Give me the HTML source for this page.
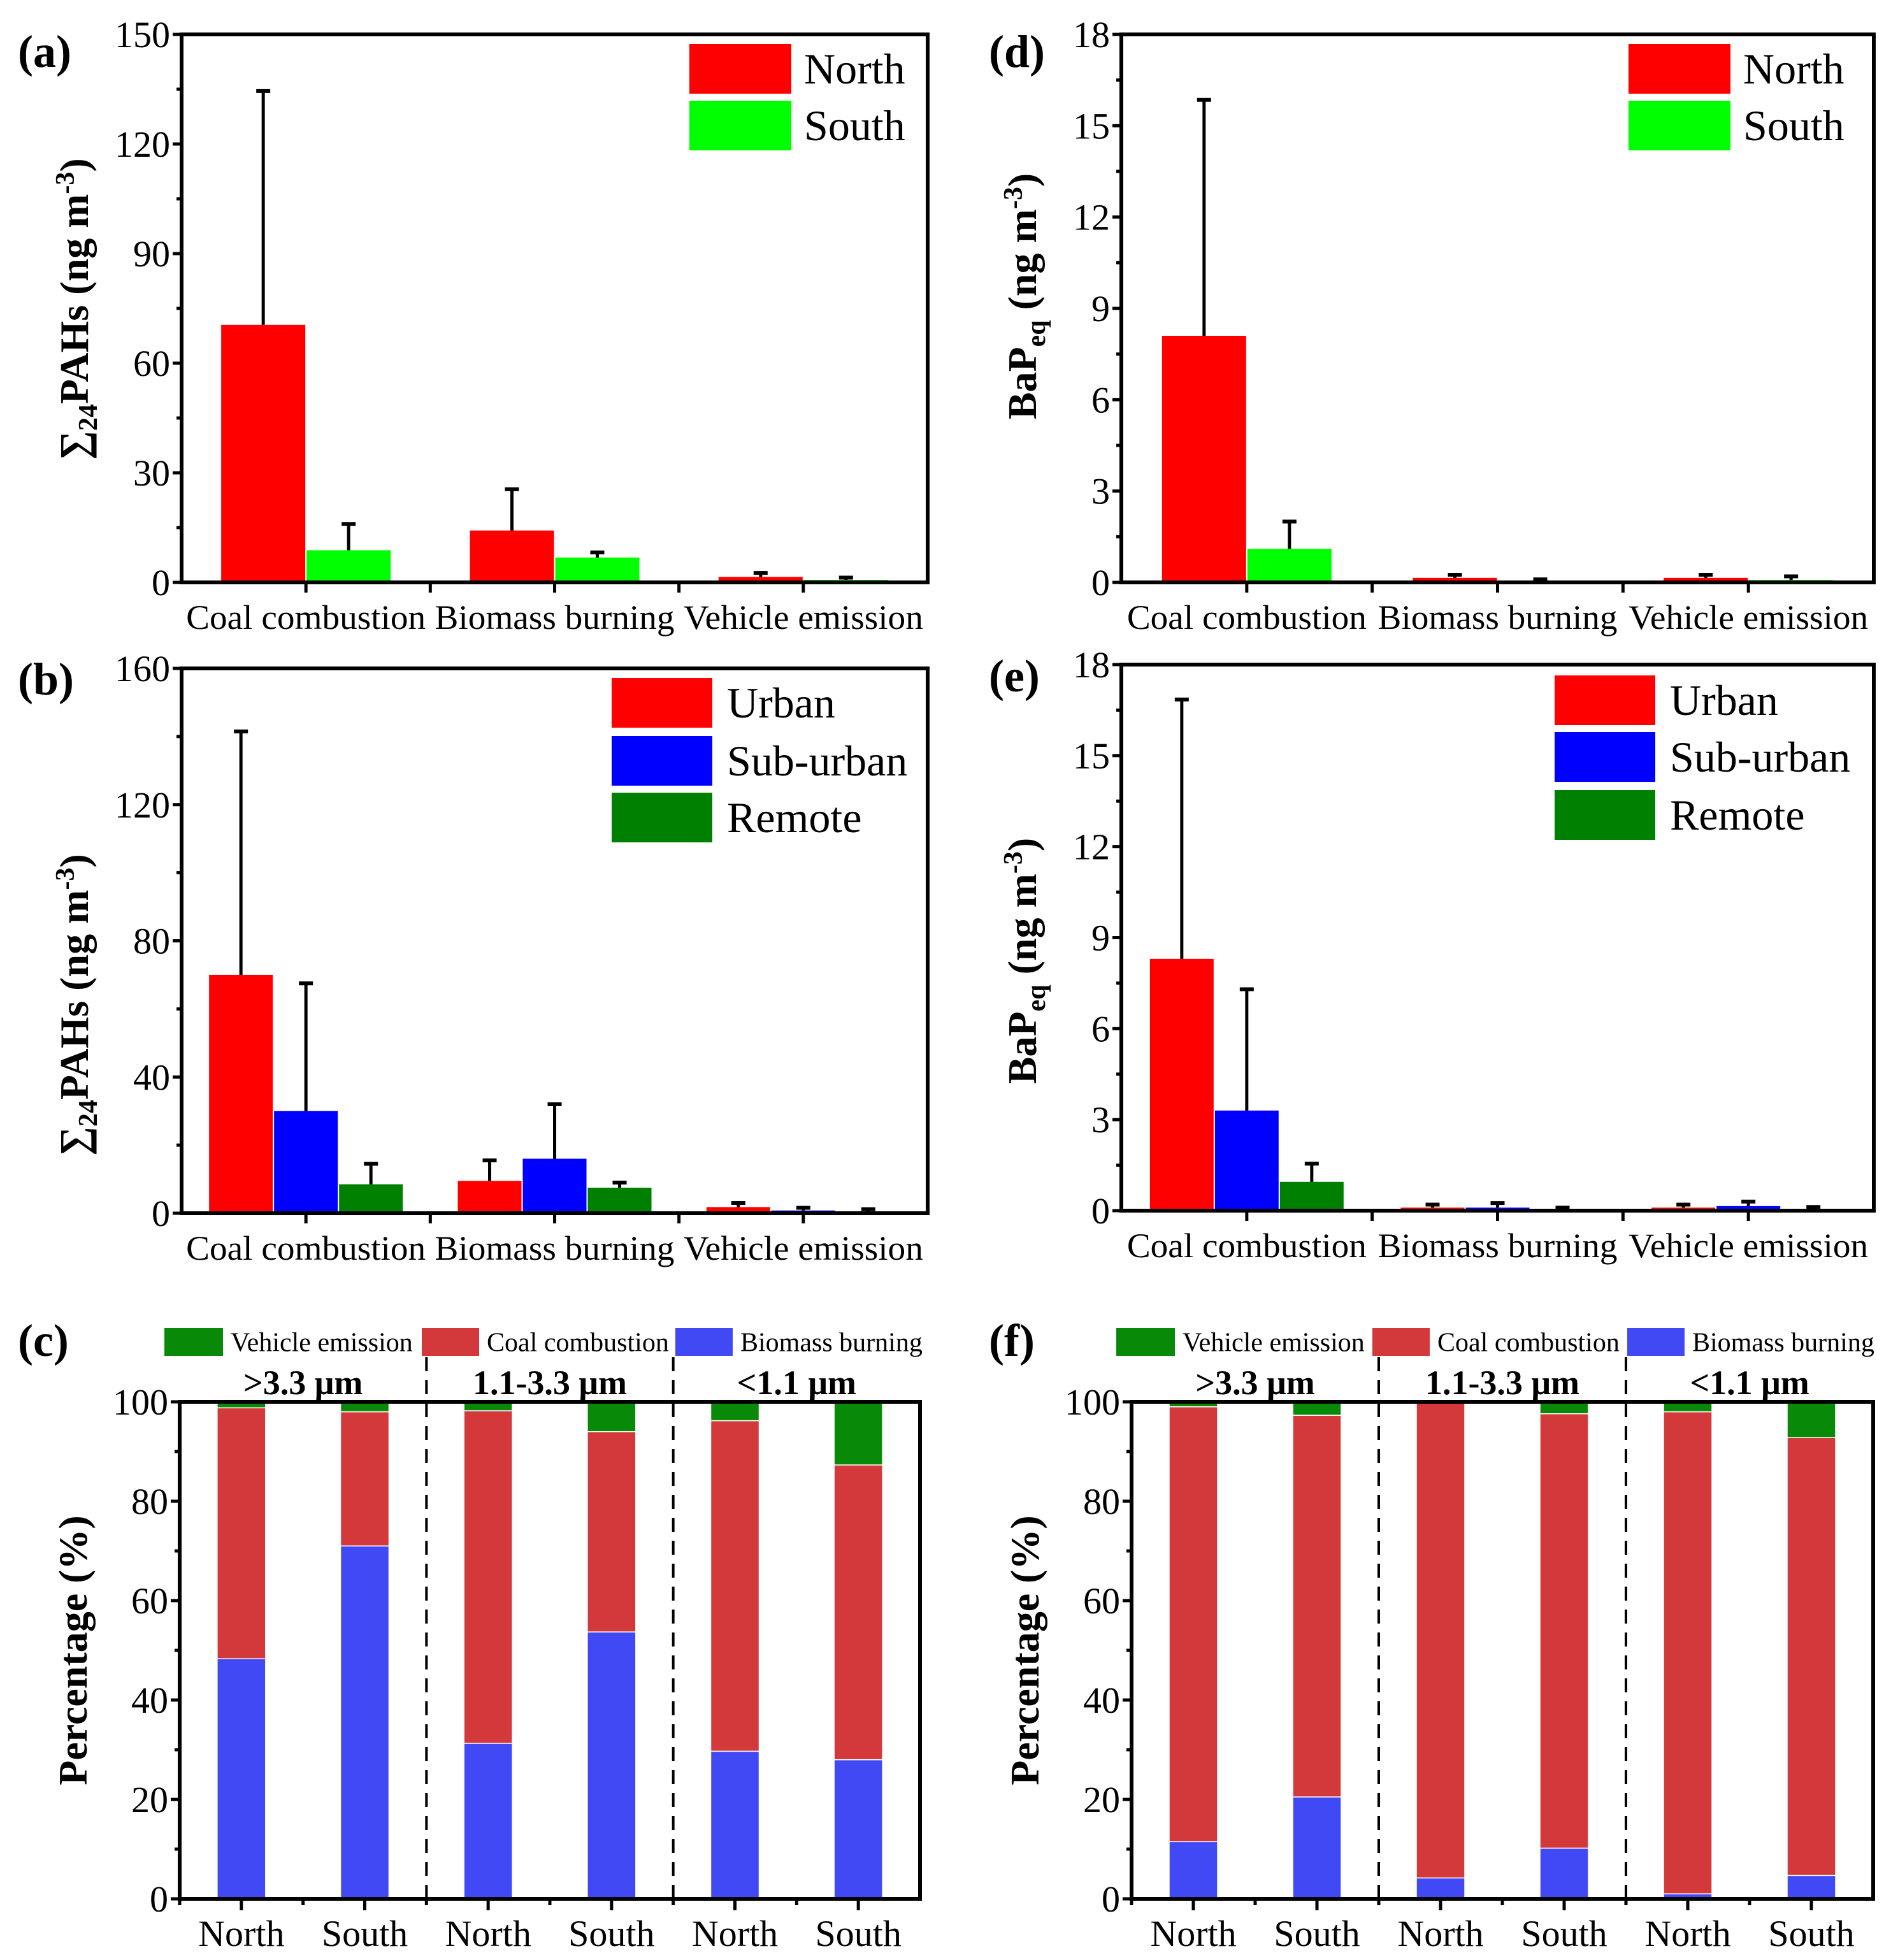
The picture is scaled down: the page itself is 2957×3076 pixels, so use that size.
<!DOCTYPE html>
<html><head><meta charset="utf-8"><style>
html,body{margin:0;padding:0;background:#fff}
svg{display:block}
text{font-family:"Liberation Serif",serif;fill:#000}
</style></head><body>
<svg id="fig" width="2957" height="3076" viewBox="0 0 2957 3076" xmlns="http://www.w3.org/2000/svg"></svg>
<script>
// ---------- data ----------
const catsABDE = ["Coal combustion","Biomass burning","Vehicle emission"];
const aNorth = [70.5, 14.2, 1.5];
const aNorthErr = [134.5, 25.5, 2.6];
const aSouth = [8.8, 6.8, 0.7];
const aSouthErr = [16, 8.2, 1.3];
const aTicks = [0,30,60,90,120,150];

const dNorth = [8.1, 0.15, 0.15];
const dNorthErr = [15.85, 0.25, 0.25];
const dSouth = [1.1, 0.05, 0.08];
const dSouthErr = [2.0, 0.1, 0.2];
const dTicks = [0,3,6,9,12,15,18];

const bUrban = [70, 9.5, 1.8];
const bUrbanErr = [141.5, 15.5, 3];
const bSub = [30, 16, 0.8];
const bSubErr = [67.5, 32, 1.6];
const bRemote = [8.5, 7.5, 0.5];
const bRemoteErr = [14.5, 9, 1.2];
const bTicks = [0,40,80,120,160];

const eUrban = [8.3, 0.1, 0.1];
const eUrbanErr = [16.85, 0.2, 0.2];
const eSub = [3.3, 0.1, 0.15];
const eSubErr = [7.3, 0.25, 0.3];
const eRemote = [0.95, 0.05, 0.05];
const eRemoteErr = [1.55, 0.1, 0.12];
const eTicks = [0,3,6,9,12,15,18];

const catsCF = ["North","South","North","South","North","South"];
const sizeLabels = [">3.3 μm","1.1-3.3 μm","<1.1 μm"];
const cBiomass = [48.3, 71, 31.3, 53.7, 29.7, 28];
const cCoal = [50.5, 27, 66.9, 40.3, 66.5, 59.3];
const cVehicle = [1.2, 2, 1.8, 6, 3.8, 12.7];
const fBiomass = [11.5, 20.5, 4.2, 10.2, 1, 4.7];
const fCoal = [87.5, 76.8, 95.6, 87.4, 97, 88.1];
const fVehicle = [1, 2.7, 0.2, 2.4, 2, 7.2];
const pctTicks = [0,20,40,60,80,100];

// ---------- helpers ----------
const NS="http://www.w3.org/2000/svg";
const svg=document.getElementById('fig');
function mk(tag,attrs,parent){const e=document.createElementNS(NS,tag);for(const k in attrs)e.setAttribute(k,attrs[k]);(parent||svg).appendChild(e);return e;}
function txt(s,attrs,parent){const e=mk('text',attrs,parent);e.textContent=s;return e;}

function axes(g,L,R,T,B,ymax,ticks,minor){
  const ys=v=>B-(v/ymax)*(B-T);
  mk('rect',{x:L,y:T,width:R-L,height:B-T,fill:'none',stroke:'#000','stroke-width':6},g);
  ticks.forEach(t=>{
    mk('line',{x1:L-14,x2:L,y1:ys(t),y2:ys(t),stroke:'#000','stroke-width':5},g);
    const lb=txt(String(t),{x:L-18,y:ys(t)+20,'text-anchor':'end','font-size':58},g);
    
    
  });
  if(minor){for(let i=0;i<ticks.length-1;i++){const m=(ticks[i]+ticks[i+1])/2;mk('line',{x1:L-8,x2:L,y1:ys(m),y2:ys(m),stroke:'#000','stroke-width':5},g);}}
  return ys;
}

function barPanel(name,L,R,T,B,ymax,ticks,series,colors,errs,bw){
  const g=mk('g',{});
  
  
  const ys=axes(g,L,R,T,B,ymax,ticks,true);
  const n=catsABDE.length, gw=(R-L)/n, k=series.length;
  catsABDE.forEach((c,i)=>{
    const cx=L+gw*(i+0.5);
    mk('line',{x1:cx,x2:cx,y1:B,y2:B+16,stroke:'#000','stroke-width':5},g);
    if(i>0) mk('line',{x1:L+gw*i,x2:L+gw*i,y1:B,y2:B+16,stroke:'#000','stroke-width':5},g);
    const lb=txt(c,{x:cx,y:B+73,'text-anchor':'middle','font-size':54,textLength:376,lengthAdjust:'spacingAndGlyphs'},g);
    
    
    series.forEach((s,j)=>{
      const x=cx-(k*bw)/2+j*bw;
      const r=mk('rect',{x:x+1,y:ys(s[i]),width:bw-2,height:B-ys(s[i]),fill:colors[j]},g);
      
      
      const ex=x+bw/2, et=ys(errs[j][i]);
      mk('line',{x1:ex,x2:ex,y1:ys(s[i]),y2:et,stroke:'#000','stroke-width':5},g);
      mk('line',{x1:ex-11,x2:ex+11,y1:et,y2:et,stroke:'#000','stroke-width':6},g);
    });
  });
  mk('line',{x1:L,x2:R,y1:B,y2:B,stroke:'#000','stroke-width':6},g);
  return g;
}

function legendBox(x,y,w,h,color,label,fs,tx,g){
  const r=mk('rect',{x:x,y:y,width:w,height:h,fill:color},g);
  
  
  const t=txt(label,{x:tx,y:y+h/2+fs*0.34,'font-size':fs},g);
  
  
}

function yTitle(x,y,parts){
  const t=mk('text',{transform:`translate(${x},${y}) rotate(-90)`,'text-anchor':'middle','font-size':64,'font-weight':'bold'});
  
  
  parts.forEach(p=>{const s=mk('tspan',p.a||{},t);s.textContent=p.s;});
  return t;
}
function panelLabel(x,y,s){
  const t=txt(s,{x:x,y:y,'font-size':72,'font-weight':'bold'});
  
  
}

// ---------- panel a ----------
const ga=barPanel('panel-a',285,1456,54,914,150,aTicks,[aNorth,aSouth],['#ff0000','#00ff00'],[aNorthErr,aSouthErr],134);
legendBox(1082,69,160,78,'#ff0000','North',68,1262,ga);
legendBox(1082,158,160,78,'#00ff00','South',68,1262,ga);
panelLabel(28,105,'(a)');
yTitle(138,485,[{s:'∑'},{s:'24',a:{'font-size':42,dy:14}},{s:'PAHs (ng m',a:{dy:-14}},{s:'-3',a:{'font-size':42,dy:-22}},{s:')',a:{dy:22}}]);

// ---------- panel d ----------
const gd=barPanel('panel-d',1760,2941,54,914,18,dTicks,[dNorth,dSouth],['#ff0000','#00ff00'],[dNorthErr,dSouthErr],134);
legendBox(2556,69,160,78,'#ff0000','North',68,2736,gd);
legendBox(2556,158,160,78,'#00ff00','South',68,2736,gd);
panelLabel(1552,105,'(d)');
yTitle(1626,465,[{s:'BaP'},{s:'eq',a:{'font-size':42,dy:14}},{s:' (ng m',a:{dy:-14}},{s:'-3',a:{'font-size':42,dy:-22}},{s:')',a:{dy:22}}]);

// ---------- panel b ----------
const gb=barPanel('panel-b',285,1456,1049,1904,160,bTicks,[bUrban,bSub,bRemote],['#ff0000','#0000ff','#008000'],[bUrbanErr,bSubErr,bRemoteErr],102);
legendBox(960,1064,158,78,'#ff0000','Urban',68,1141,gb);
legendBox(960,1155,158,78,'#0000ff','Sub-urban',68,1141,gb);
legendBox(960,1244,158,78,'#008000','Remote',68,1141,gb);
panelLabel(28,1090,'(b)');
yTitle(138,1577,[{s:'∑'},{s:'24',a:{'font-size':42,dy:14}},{s:'PAHs (ng m',a:{dy:-14}},{s:'-3',a:{'font-size':42,dy:-22}},{s:')',a:{dy:22}}]);

// ---------- panel e ----------
const ge=barPanel('panel-e',1760,2941,1043,1900,18,eTicks,[eUrban,eSub,eRemote],['#ff0000','#0000ff','#008000'],[eUrbanErr,eSubErr,eRemoteErr],102);
legendBox(2440,1060,158,78,'#ff0000','Urban',68,2621,ge);
legendBox(2440,1149,158,78,'#0000ff','Sub-urban',68,2621,ge);
legendBox(2440,1240,158,78,'#008000','Remote',68,2621,ge);
panelLabel(1552,1085,'(e)');
yTitle(1626,1508,[{s:'BaP'},{s:'eq',a:{'font-size':42,dy:14}},{s:' (ng m',a:{dy:-14}},{s:'-3',a:{'font-size':42,dy:-22}},{s:')',a:{dy:22}}]);

// ---------- stacked panels ----------
function stackPanel(name,L,R,T,B,bio,coal,veh,legX){
  const g=mk('g',{});
  
  
  const ys=axes(g,L,R,T,B,100,pctTicks,true);
  const n=catsCF.length, gw=(R-L)/n, bw=76;
  catsCF.forEach((c,i)=>{
    const cx=L+gw*(i+0.5);
    mk('line',{x1:cx,x2:cx,y1:B,y2:B+18,stroke:'#000','stroke-width':5},g);
    mk('line',{x1:L+gw*i,x2:L+gw*i,y1:B,y2:B+10,stroke:'#000','stroke-width':5},g);
    const lb=txt(c,{x:cx,y:B+74,'text-anchor':'middle','font-size':58},g);
    
    
    const segs=[[bio[i],'#4149f4','biomass'],[coal[i],'#d3393b','coal'],[veh[i],'#088a08','vehicle']];
    let base=0;
    segs.forEach(s=>{
      const y0=ys(base), y1=ys(base+s[0]);
      const r=mk('rect',{x:cx-bw/2,y:y1,width:bw,height:y0-y1,fill:s[1],stroke:'#fff','stroke-width':1.5},g);
      
      
      base+=s[0];
    });
  });
  [2,4].forEach(k=>{mk('line',{x1:L+gw*k,x2:L+gw*k,y1:T-70,y2:B,stroke:'#000','stroke-width':4,'stroke-dasharray':'22,14'},g);});
  sizeLabels.forEach((s,k)=>{
    const t=txt(s,{x:L+gw*(2*k+1),y:T-12,'text-anchor':'middle','font-size':54,'font-weight':'bold'},g);
    
    
  });
  mk('rect',{x:L,y:T,width:R-L,height:B-T,fill:'none',stroke:'#000','stroke-width':6},g);
  const ly=T-116;
  legendBox(legX[0],ly,92,44,'#088a08','Vehicle emission',42,legX[0]+104,g);
  legendBox(legX[1],ly,90,44,'#d3393b','Coal combustion',42,legX[1]+102,g);
  legendBox(legX[2],ly,90,44,'#4149f4','Biomass burning',42,legX[2]+102,g);
}
stackPanel('panel-c',282,1444,2200,2980,cBiomass,cCoal,cVehicle,[258,662,1060]);
panelLabel(28,2128,'(c)');
yTitle(136,2590,[{s:'Percentage (%)'}]);
stackPanel('panel-f',1776,2940,2200,2980,fBiomass,fCoal,fVehicle,[1752,2154,2554]);
panelLabel(1552,2128,'(f)');
yTitle(1630,2590,[{s:'Percentage (%)'}]);
</script>
</body></html>
